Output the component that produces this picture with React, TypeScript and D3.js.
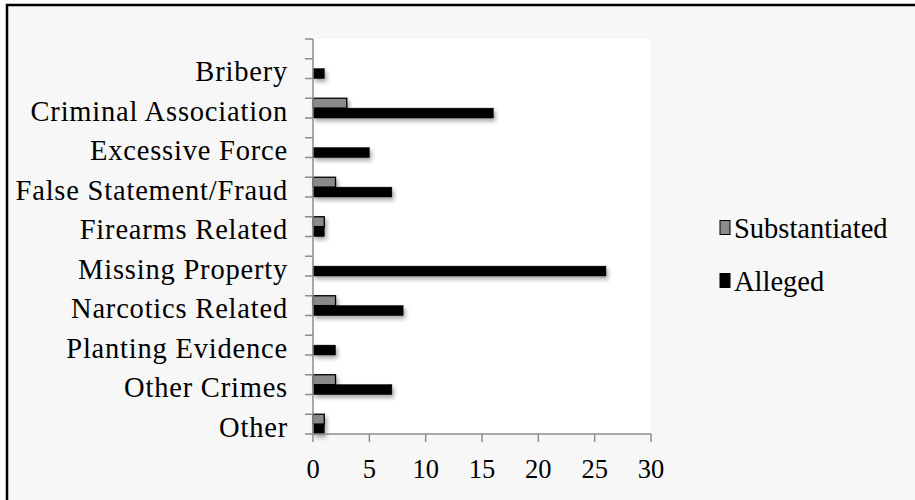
import React, { useEffect, useRef } from "react";
import * as d3 from "d3";

const categories = [
  "Bribery",
  "Criminal Association",
  "Excessive Force",
  "False Statement/Fraud",
  "Firearms Related",
  "Missing Property",
  "Narcotics Related",
  "Planting Evidence",
  "Other Crimes",
  "Other",
];
const substantiated = [0, 3, 0, 2, 1, 0, 2, 0, 2, 1];
const alleged = [1, 16, 5, 7, 1, 26, 8, 2, 7, 1];
const xTicks = [0, 5, 10, 15, 20, 25, 30];
const seriesNames = ["Substantiated", "Alleged"];
const seriesColors = ["#8a8a8a", "#000000"];

const FONT = "'Liberation Serif', serif";
const FS = 28.5;

const App = () => {
  const ref = useRef<SVGSVGElement>(null);

  useEffect(() => {
    const svg = d3.select(ref.current);
    svg.selectAll("*").remove();

    const W = 915;
    const H = 500;
    const left = 313;
    const right = 651;
    const top = 39;
    const bottom = 434;

    // background + frame
    svg.append("rect").attr("width", W).attr("height", H).attr("fill", "#fff");
    svg
      .append("rect")
      .attr("x", 7)
      .attr("y", 5)
      .attr("width", W + 10)
      .attr("height", H + 10)
      .attr("fill", "#f7f7f7")
      .attr("stroke", "#000")
      .attr("stroke-width", 2.5);

    const defs = svg.append("defs");
    const f = defs
      .append("filter")
      .attr("id", "shadow")
      .attr("x", "-10%")
      .attr("y", "-50%")
      .attr("width", "130%")
      .attr("height", "250%");
    f.append("feDropShadow")
      .attr("dx", 2)
      .attr("dy", 3)
      .attr("stdDeviation", 2)
      .attr("flood-color", "#000")
      .attr("flood-opacity", 0.35);

    svg
      .append("rect")
      .attr("x", left)
      .attr("y", top)
      .attr("width", right - left)
      .attr("height", bottom - top)
      .attr("fill", "#fff");

    const x = d3.scaleLinear().domain([0, 30]).range([left, right]);
    const y = d3.scaleBand().domain(categories).range([top, bottom]);
    const bw = y.bandwidth();

    // bars
    const g = svg.append("g").attr("filter", "url(#shadow)");
    [substantiated, alleged].forEach((vals, si) => {
      const rows = categories
        .map((c, i) => ({ c, v: vals[i] }))
        .filter((r) => r.v > 0);
      g.selectAll(`rect.s${si}`)
        .data(rows)
        .enter()
        .append("rect")
        .attr("class", `s${si}`)
        .attr("x", x(0))
        .attr("y", (d) => (y(d.c) as number) + bw / 2 + (si * bw) / 4)
        .attr("width", (d) => x(d.v) - x(0))
        .attr("height", bw / 4)
        .attr("fill", seriesColors[si])
        .attr("stroke", "#000")
        .attr("stroke-width", si === 0 ? 1.3 : 0.5);
    });

    // axes
    const axisColor = "#8c8c8c";
    svg
      .append("line")
      .attr("x1", left)
      .attr("x2", left)
      .attr("y1", top)
      .attr("y2", bottom)
      .attr("stroke", axisColor)
      .attr("stroke-width", 1.5);
    svg
      .append("line")
      .attr("x1", left)
      .attr("x2", right)
      .attr("y1", bottom)
      .attr("y2", bottom)
      .attr("stroke", axisColor)
      .attr("stroke-width", 1.5);

    const halfTicks = d3.range(categories.length * 2 + 1).map((i) => top + (i * bw) / 2);
    svg
      .selectAll("line.yt")
      .data(halfTicks)
      .enter()
      .append("line")
      .attr("x1", left - 8)
      .attr("x2", left)
      .attr("y1", (d) => d)
      .attr("y2", (d) => d)
      .attr("stroke", axisColor)
      .attr("stroke-width", 1.5);

    svg
      .selectAll("line.xt")
      .data(xTicks)
      .enter()
      .append("line")
      .attr("x1", (d) => x(d))
      .attr("x2", (d) => x(d))
      .attr("y1", bottom)
      .attr("y2", bottom + 8)
      .attr("stroke", axisColor)
      .attr("stroke-width", 1.5);

    svg
      .selectAll("text.xl")
      .data(xTicks)
      .enter()
      .append("text")
      .attr("x", (d) => x(d))
      .attr("y", 478)
      .attr("text-anchor", "middle")
      .attr("font-family", FONT)
      .attr("font-size", FS - 2)
      .text((d) => d);

    svg
      .selectAll("text.yl")
      .data(categories)
      .enter()
      .append("text")
      .attr("x", 288)
      .attr("y", (d) => (y(d) as number) + bw + 2.5)
      .attr("text-anchor", "end")
      .attr("font-family", FONT)
      .attr("font-size", FS)
      .attr("letter-spacing", 0.8)
      .text((d) => d);

    // legend
    const lg = svg.append("g");
    seriesNames.forEach((name, i) => {
      const base = 237.5 + i * 53;
      lg.append("rect")
        .attr("x", 720)
        .attr("y", base - 17)
        .attr("width", 10)
        .attr("height", 14)
        .attr("fill", seriesColors[i])
        .attr("stroke", "#000")
        .attr("stroke-width", 1);
      lg.append("text")
        .attr("x", 734)
        .attr("y", base)
        .attr("font-family", FONT)
        .attr("font-size", FS)
        .text(name);
    });
  }, []);

  return (
    <svg
      ref={ref}
      width={915}
      height={500}
      style={{ position: "absolute", left: 0, top: 0 }}
    ></svg>
  );
};

export default App;
